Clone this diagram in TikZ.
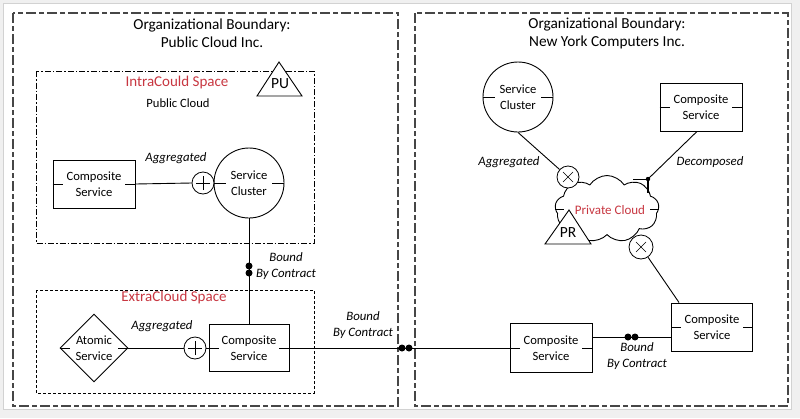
\documentclass[tikz,border=0pt]{standalone}
\usepackage{fontspec}
\setmainfont{Carlito}
\usetikzlibrary{shapes.geometric,shapes.symbols,calc}
\definecolor{cred}{RGB}{200,55,65}
\definecolor{bnd}{RGB}{70,70,70}
\tikzset{
  base/.style={font=\fontsize{12.6}{15.5}\selectfont, align=center},
  box/.style={base, draw, fill=white, line width=0.9pt, inner sep=0pt},
  svc/.style={box, rectangle, minimum width=82, minimum height=48},
  clu/.style={box, circle, minimum size=70},
  op/.style={draw, fill=white, circle, minimum size=22, inner sep=0pt, line width=0.8pt},
  dot/.style={circle, fill=black, minimum size=7, inner sep=0pt},
  lab/.style={base, font=\fontsize{12.8}{15.5}\selectfont\itshape},
  conn/.style={line width=0.9pt},
  orgb/.style={draw=bnd, line width=1.4pt, dash pattern=on 10pt off 3pt on 5pt off 3pt},
  title/.style={align=center, font=\fontsize{15.3}{18}\selectfont},
  space/.style={text=cred, font=\fontsize{15}{17}\selectfont},
}
\begin{document}
\begin{tikzpicture}[x=1pt,y=-1pt]
\useasboundingbox (0,0) rectangle (800,418);
\fill[gray!12] (0,0) rectangle (800,418);
\filldraw[fill=white, draw=gray!35] (3,3) rectangle (791,409);

% boundaries
\draw[orgb] (13,13) rectangle (398,406);
\draw[orgb] (415,13) rectangle (788,406);
\node[title] (t1) at (212,33) {Organizational Boundary:\\Public Cloud Inc.};
\node[title] (t2) at (607,33) {Organizational Boundary:\\New York Computers Inc.};

% spaces
\draw[line width=0.9pt, dash pattern=on 6pt off 2pt on 1.5pt off 2pt] (36,71) rectangle (314,243);
\draw[line width=0.9pt, dash pattern=on 3pt off 2pt] (36,290) rectangle (314,393);
\node[space] (intra) at (177,82) {IntraCould Space};
\node[base] (pubc) at (178,103) {Public Cloud};
\node[space] (extra) at (174,297) {ExtraCloud Space};

% PU triangle
\filldraw[fill=white, line width=0.9pt] (257,96) -- (279,62) -- (302,96) -- cycle;
\node[font=\fontsize{15.5}{17}\selectfont] (pu) at (280,84) {PU};

% left upper
\node[svc] (comp1) at (94,184) {Composite\\Service};
\node[clu] (clu1) at (249,183) {Service\\Cluster};
\node[op] (plus1) at (203,183) {};
\draw ([xshift=-7pt]plus1.center) -- ([xshift=7pt]plus1.center);
\draw ([yshift=-7pt]plus1.center) -- ([yshift=7pt]plus1.center);
\draw[conn] (comp1.east) -- (plus1.west);
\node[lab] (agg1) at (176,158) {Aggregated};

% left lower
\node[box, diamond, aspect=1, minimum size=68] (atom) at (94,348) {Atomic\\Service};
\node[svc, minimum width=80, minimum height=47] (comp2) at (249,348) {Composite\\Service};
\node[op] (plus2) at (195,348) {};
\draw ([xshift=-7pt]plus2.center) -- ([xshift=7pt]plus2.center);
\draw ([yshift=-7pt]plus2.center) -- ([yshift=7pt]plus2.center);
\draw[conn] (atom.east) -- (plus2.west);
\draw[conn] (plus2.east) -- (comp2.west);
\node[lab] (agg2) at (162,326) {Aggregated};

\draw[conn] (clu1.south) -- (comp2.north);
\node[dot] (d1) at (249,266) {};
\node[dot] (d2) at (249,273) {};
\node[lab] (bc1) at (286,266) {Bound\\By Contract};

% right side
\node[clu] (clu2) at (518,97) {Service\\Cluster};
\node[svc] (comp4) at (701,107) {Composite\\Service};
\node[cloud, draw, fill=white, line width=0.9pt, cloud puffs=9, cloud puff arc=115, aspect=1.55, minimum width=104, minimum height=67, inner sep=0pt] (cloud) at (607,209) {};
\node[text=cred, font=\fontsize{13}{15}\selectfont] (pcl) at (610,210) {Private Cloud};
\draw (cloud.west) -- ++(9,0);
\draw (cloud.east) -- ++(-9,0);

\node[op] (cross1) at (568,177) {};
\draw ([shift={(-5,-5)}]cross1.center) -- ([shift={(5,5)}]cross1.center);
\draw ([shift={(-5,5)}]cross1.center) -- ([shift={(5,-5)}]cross1.center);
\node[op, minimum size=24] (cross2) at (641,247) {};
\draw ([shift={(-5,-5)}]cross2.center) -- ([shift={(5,5)}]cross2.center);
\draw ([shift={(-5,5)}]cross2.center) -- ([shift={(5,-5)}]cross2.center);

\draw[conn] (clu2.south) -- (cross1);
\node[lab] (agg3) at (509,162) {Aggregated};

\coordinate (jd) at (648,179);
\draw[conn] ($(comp4.south)+(-4,0)$) -- (jd);
\draw[conn] (jd) -- ++(-15,0);
\draw[line width=1.2pt] (jd) -- ++(0,14);
\fill (jd) circle (2.2);
\node[lab] (dec) at (710,162) {Decomposed};

% PR triangle
\filldraw[fill=white, line width=0.9pt] (545,244) -- (569,210) -- (591,244) -- cycle;
\node[font=\fontsize{15.5}{17}\selectfont] (pr) at (568,233) {PR};

\node[svc, minimum height=49] (comp3) at (551,348) {Composite\\Service};
\node[svc, minimum width=81] (comp5) at (712,327) {Composite\\Service};
\draw[conn] (cross2) -- ($(comp5.north west)+(8,0)$);

\draw[conn] ($(comp3.east)+(0,-11)$) -- ($(comp5.west)+(0,10)$);
\node[dot] (d5) at (628,337) {};
\node[dot] (d6) at (635,337) {};
\node[lab] (bc3) at (637,356) {Bound\\By Contract};

\draw[conn] (comp2.east) -- (comp3.west);
\node[dot] (d3) at (402,348) {};
\node[dot] (d4) at (409,348) {};
\node[lab] (bc2) at (363,325) {Bound\\By Contract};

% port ticks
\foreach \n in {comp1,comp2,comp3,comp4,comp5}{
  \draw (\n.west) -- ++(10,0);
  \draw (\n.east) -- ++(-10,0);
}
\foreach \n in {clu1,clu2}{
  \draw (\n.west) -- ++(12,0);
  \draw (\n.east) -- ++(-12,0);
}
\draw (atom.west) -- ++(10,0);
\draw (atom.east) -- ++(-10,0);
\end{tikzpicture}
\end{document}
